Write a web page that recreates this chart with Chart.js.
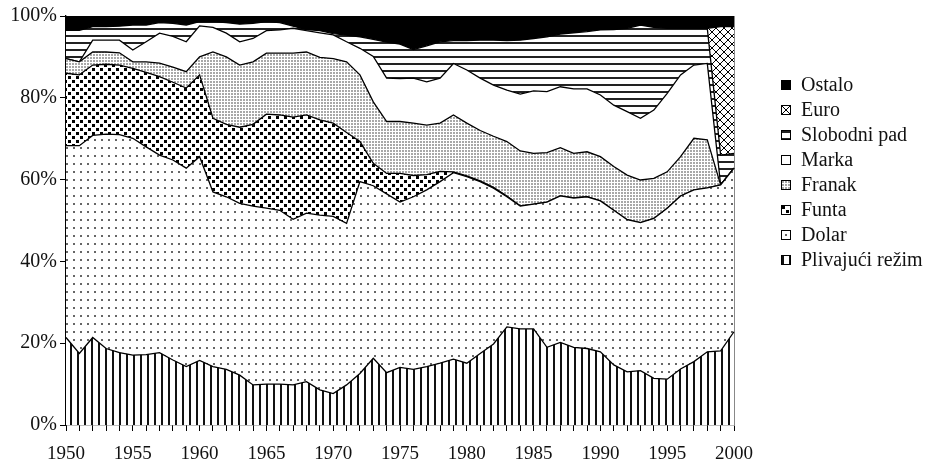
<!DOCTYPE html>
<html lang="hr">
<head>
<meta charset="utf-8">
<script src="https://cdn.jsdelivr.net/npm/chart.js"></script>
<style>
  body { margin: 0; background: #fff; }
  #wrap { position: relative; width: 928px; height: 463px; }
  #legend { position: absolute; left: 781px; top: 72px; font-family: "Liberation Serif", serif; font-size: 20px; color: #111; }
  #legend div { height: 25px; display: flex; align-items: center; white-space: nowrap; }
  #legend canvas { border: 1px solid #000; margin-right: 10px; }
</style>
</head>
<body>
<div id="wrap">
  <canvas id="chart" width="928" height="463"></canvas>
  <div id="legend"></div>
</div>

<script>
// udjeli valutnih režima (%), 1950-2000
const years = [1950, 1951, 1952, 1953, 1954, 1955, 1956, 1957, 1958, 1959,
               1960, 1961, 1962, 1963, 1964, 1965, 1966, 1967, 1968, 1969,
               1970, 1971, 1972, 1973, 1974, 1975, 1976, 1977, 1978, 1979,
               1980, 1981, 1982, 1983, 1984, 1985, 1986, 1987, 1988, 1989,
               1990, 1991, 1992, 1993, 1994, 1995, 1996, 1997, 1998, 1999, 2000];

const plivajuci = [21.4, 17.5, 21.4, 18.7, 17.7, 17.1, 17.2, 17.7, 15.9, 14.3,
                   15.8, 14.3, 13.6, 12.2, 9.8, 10.0, 10.0, 9.8, 10.6, 8.6,
                   7.7, 9.8, 12.6, 16.3, 12.8, 14.1, 13.6, 14.3, 15.1, 16.1,
                   15.1, 17.5, 19.8, 24.0, 23.5, 23.5, 19.0, 20.2, 19.0, 18.7,
                   17.9, 14.7, 13.0, 13.3, 11.4, 11.2, 13.7, 15.5, 17.9, 18.1, 22.8];
const dolar = [46.9, 50.8, 49.4, 52.4, 53.3, 53.0, 50.8, 48.3, 48.9, 48.5,
               49.8, 42.7, 42.2, 42.0, 43.7, 43.0, 42.5, 40.5, 41.2, 42.7,
               43.3, 39.5, 46.9, 42.2, 43.7, 40.4, 42.2, 43.2, 44.4, 45.6,
               45.6, 42.0, 38.1, 31.8, 30.0, 30.5, 35.5, 35.8, 36.5, 37.1,
               36.9, 37.8, 37.2, 36.2, 39.1, 41.8, 42.3, 42.0, 40.1, 40.6, 40.0];
const funta = [17.7, 17.3, 17.2, 17.1, 17.0, 17.1, 18.2, 19.2, 19.0, 19.6,
               20.0, 18.0, 17.7, 18.6, 20.0, 23.0, 23.3, 25.0, 24.0, 23.3,
               22.8, 22.2, 9.8, 5.5, 5.0, 7.0, 5.2, 3.7, 2.5, 0.2,
               0.2, 0.2, 0.2, 0.2, 0.1, 0, 0, 0, 0, 0,
               0, 0, 0, 0, 0, 0, 0, 0, 0, 0, 0];
const franak = [3.6, 3.2, 3.2, 3.0, 3.0, 1.6, 2.6, 3.3, 3.7, 4.0,
                4.4, 16.2, 16.5, 15.2, 15.3, 14.9, 15.1, 15.6, 15.4, 15.3,
                15.8, 17.3, 16.3, 15.0, 12.7, 12.7, 12.8, 12.1, 11.8, 13.9,
                12.9, 12.3, 12.5, 13.3, 13.4, 12.4, 12.1, 11.8, 10.9, 11.0,
                10.8, 10.7, 10.9, 10.4, 9.8, 8.9, 9.6, 12.6, 11.7, 0, 0];
const marka = [0, 0, 2.9, 2.9, 3.1, 2.9, 4.9, 7.3, 7.5, 7.3,
               7.6, 6.0, 5.8, 5.7, 5.7, 5.5, 5.7, 6.1, 5.2, 6.0,
               5.8, 4.9, 6.5, 11.1, 10.6, 10.5, 11.0, 10.6, 11.0, 12.6,
               13.0, 12.8, 12.5, 12.6, 13.9, 15.3, 14.9, 14.9, 15.8, 15.4,
               15.1, 15.0, 15.5, 15.1, 16.7, 19.2, 20.0, 17.9, 18.7, 0, 0];
const slobodniPad = [6.9, 7.7, 3.3, 3.3, 3.4, 6.1, 4.1, 2.6, 3.2, 4.1,
                     1.0, 1.4, 2.6, 4.3, 3.7, 2.2, 1.8, 0.5, 0.3, 0.5,
                     0.3, 1.6, 2.8, 4.2, 8.8, 8.4, 7.0, 8.8, 8.9, 5.6,
                     7.2, 9.3, 11.0, 12.1, 13.2, 12.8, 13.4, 12.9, 13.7, 14.0,
                     15.9, 18.5, 20.4, 22.8, 20.2, 15.9, 11.4, 9.0, 8.6, 7.3, 3.6];
const euro = [0, 0, 0, 0, 0, 0, 0, 0, 0, 0,
              0, 0, 0, 0, 0, 0, 0, 0, 0, 0,
              0, 0, 0, 0, 0, 0, 0, 0, 0, 0,
              0, 0, 0, 0, 0, 0, 0, 0, 0, 0,
              0, 0, 0, 0, 0, 0, 0, 0, 0, 31.4, 31.0];
const ostalo = [3.5, 3.5, 2.6, 2.6, 2.5, 2.2, 2.2, 1.6, 1.8, 2.2,
                1.4, 1.4, 1.6, 2.0, 1.8, 1.4, 1.6, 2.5, 3.3, 3.6,
                4.3, 4.7, 5.1, 5.7, 6.4, 6.9, 8.2, 7.3, 6.3, 6.0,
                6.0, 5.9, 5.9, 6.0, 5.9, 5.5, 5.1, 4.4, 4.1, 3.8,
                3.4, 3.3, 3.0, 2.2, 2.8, 3.0, 3.0, 3.0, 3.0, 2.6, 2.6];

// crno-bijele šrafure
function makePattern(w, h, draw) {
    const c = document.createElement('canvas');
    c.width = w; c.height = h;
    const g = c.getContext('2d');
    g.fillStyle = '#fff';
    g.fillRect(0, 0, w, h);
    draw(g);
    return c.getContext('2d').createPattern(c, 'repeat');
}

const patterns = {
    vertical: makePattern(7, 1, g => { g.fillStyle = '#111'; g.fillRect(0, 0, 2, 1); }),
    sparseDots: makePattern(7, 8, g => { g.fillStyle = '#666'; g.fillRect(3, 3, 2, 2); }),
    bigDots: makePattern(8, 8, g => {
        g.fillStyle = '#000';
        g.fillRect(0, 0, 3, 3);
        g.fillRect(4, 4, 3, 3);
    }),
    fineGrid: makePattern(3, 3, g => { g.fillStyle = '#a8a8a8'; g.fillRect(0, 0, 2, 2); }),
    white: '#fff',
    horizontal: makePattern(1, 7, g => { g.fillStyle = '#222'; g.fillRect(0, 0, 1, 2); }),
    cross: makePattern(8, 8, g => {
        g.strokeStyle = '#000';
        g.lineWidth = 1;
        g.beginPath();
        g.moveTo(0, 0); g.lineTo(8, 8);
        g.moveTo(8, 0); g.lineTo(0, 8);
        g.stroke();
    }),
    solid: '#000'
};

const series = [
    { label: 'Plivajući režim', data: plivajuci, bg: patterns.vertical },
    { label: 'Dolar', data: dolar, bg: patterns.sparseDots },
    { label: 'Funta', data: funta, bg: patterns.bigDots },
    { label: 'Franak', data: franak, bg: patterns.fineGrid },
    { label: 'Marka', data: marka, bg: patterns.white },
    { label: 'Slobodni pad', data: slobodniPad, bg: patterns.horizontal },
    { label: 'Euro', data: euro, bg: patterns.cross },
    { label: 'Ostalo', data: ostalo, bg: patterns.solid }
];

const datasets = series.map((s, i) => ({
    label: s.label,
    data: s.data,
    backgroundColor: s.bg,
    borderColor: '#000',
    borderWidth: 1.3,
    fill: i === 0 ? 'origin' : '-1',
    pointRadius: 0,
    tension: 0
}));

var ctx = document.getElementById('chart').getContext('2d');
var chart = new Chart(ctx, {
    type: 'line',
    data: { labels: years, datasets: datasets },
    options: {
        responsive: false,
        animation: false,
        layout: { padding: { top: 16, right: 194, left: 0, bottom: 0 } },
        plugins: { legend: { display: false }, tooltip: { enabled: false } },
        scales: {
            x: {
                offset: false,
                grid: { drawOnChartArea: false, color: '#000', tickLength: 6 },
                border: { color: '#000', width: 1.3 },
                ticks: {
                    autoSkip: false, maxRotation: 0, padding: 12,
                    color: '#111', font: { family: 'Liberation Serif', size: 19 },
                    callback: (v, i) => years[i] % 5 === 0 ? years[i] : ''
                },
                afterFit: s => { s.height = 38; }
            },
            y: {
                stacked: true, min: 0, max: 100,
                grid: { drawOnChartArea: false, color: '#000', tickLength: 6 },
                border: { color: '#000', width: 1.3 },
                ticks: {
                    stepSize: 20, padding: 3, color: '#111',
                    font: { family: 'Liberation Serif', size: 20 },
                    callback: v => v + '%'
                },
                afterFit: s => { s.width = 66; }
            },
            y2: {
                position: 'right',
                grid: { display: false },
                border: { color: '#888' },
                ticks: { display: false },
                afterFit: s => { s.width = 0; }
            }
        }
    }
});

// legenda, obrnutim redoslijedom
const legend = document.getElementById('legend');
series.slice().reverse().forEach(s => {
    const row = document.createElement('div');
    const box = document.createElement('canvas');
    box.width = 8; box.height = 8;
    const g = box.getContext('2d');
    g.fillStyle = s.bg;
    g.fillRect(0, 0, 8, 8);
    row.appendChild(box);
    row.appendChild(document.createTextNode(s.label));
    legend.appendChild(row);
});
</script>
</body>
</html>
